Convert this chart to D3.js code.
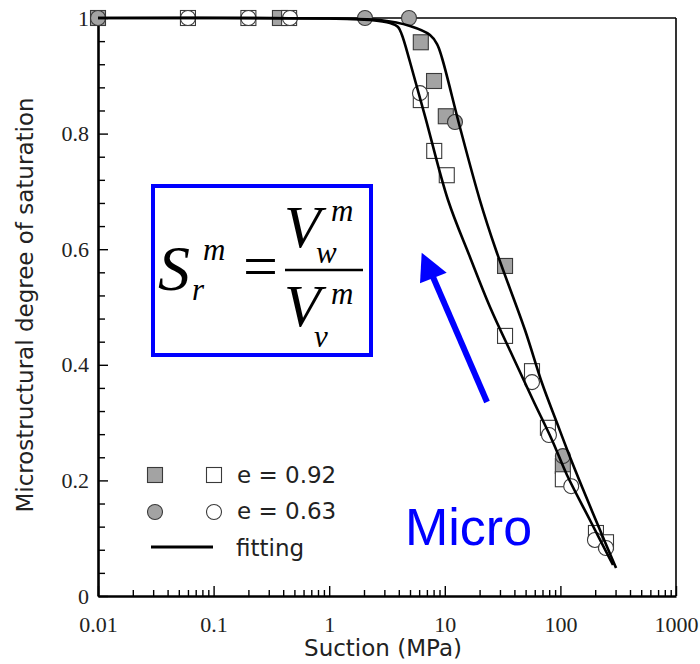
<!DOCTYPE html>
<html><head><meta charset="utf-8">
<script src="https://cdn.jsdelivr.net/npm/d3@7"></script>
<style>body{margin:0;background:#fff}</style>
</head><body>
<svg id="c" width="700" height="664" xmlns="http://www.w3.org/2000/svg"></svg>
<script>
// ---- tick values / labels ----
const xTicks = [0.01, 0.1, 1, 10, 100, 1000];
const xTickLabels = ["0.01", "0.1", "1", "10", "100", "1000"];
const yTicks = [0, 0.2, 0.4, 0.6, 0.8, 1];
const yTickLabels = ["0", "0.2", "0.4", "0.6", "0.8", "1"];

// ---- measured points (suction MPa, Sr^m) ----
const graySqS  = [0.01, 0.375, 6.2, 8.07, 10.2, 33.2, 105];
const graySqSr = [1, 1, 0.958, 0.891, 0.830, 0.571, 0.225];

const openSqS  = [0.06, 0.2, 0.45, 6.2, 8.1, 10.4, 33.2, 56.8, 78, 105, 203, 248];
const openSqSr = [1, 1, 1, 0.858, 0.770, 0.728, 0.450, 0.389, 0.291, 0.202, 0.109, 0.093];

const grayCircS  = [0.01, 2.04, 4.9, 12.25, 105];
const grayCircSr = [1, 1, 1, 0.820, 0.242];

const openCircS  = [0.06, 0.2, 0.458, 6.1, 56.8, 79.6, 124, 199, 248];
const openCircSr = [1, 1, 1, 0.870, 0.370, 0.2785, 0.190, 0.097, 0.083];

// ---- fitting curves ----
const fitAS  = [0.01, 1.016, 2.25, 3.36, 3.94, 4.26, 5.0, 6.74, 10.66, 16.5, 24.6, 38.9, 57.9, 84.6, 114, 180, 285];
const fitASr = [1, 0.9991, 0.9965, 0.9913, 0.9844, 0.9706, 0.9239, 0.8304, 0.6851, 0.5865, 0.5, 0.4135, 0.3391, 0.2699, 0.2093, 0.1315, 0.0536];

const fitBS  = [0.01, 1.016, 2.75, 5.0, 7.45, 8.57, 9.46, 13.5, 20.1, 27.7, 49.4, 69.3, 93.5, 121, 154, 220, 303];
const fitBSr = [1, 0.9991, 0.9965, 0.9862, 0.9706, 0.955, 0.9308, 0.8114, 0.6851, 0.5986, 0.4602, 0.3685, 0.2993, 0.2405, 0.1886, 0.1142, 0.0484];

const legendLabels = ["e = 0.92", "e = 0.63", "fitting"];

// ---- setup ----
const svg = d3.select("#c");
const x = d3.scaleLog().domain([0.01, 1000]).range([98, 676]);
const y = d3.scaleLinear().domain([0, 1]).range([596, 18]);

const grayFill = "#a3a3a3";
const mStroke = "#3a3a3a";

// minor ticks
const xMinor = [];
[0.01, 0.1, 1, 10, 100].forEach(d => { for (let k = 2; k <= 9; k++) xMinor.push(d * k); });
const yMinor = d3.range(0, 26).map(i => i * 0.04).filter(v => Math.abs(v * 5 - Math.round(v * 5)) > 1e-6);

// frame top/right
svg.append("line").attr("x1", 98).attr("x2", 676).attr("y1", 18).attr("y2", 18)
  .attr("stroke", "#000").attr("stroke-width", 1.6);
svg.append("line").attr("x1", 676).attr("x2", 676).attr("y1", 18).attr("y2", 596)
  .attr("stroke", "#000").attr("stroke-width", 1.6);

// bottom axis
const gxMinor = svg.append("g").attr("transform", "translate(0,596)")
  .call(d3.axisBottom(x).tickValues(xMinor).tickFormat("").tickSizeInner(-6).tickSizeOuter(0));
gxMinor.select(".domain").remove();
const gx = svg.append("g").attr("transform", "translate(0,596)")
  .call(d3.axisBottom(x).tickValues(xTicks).tickFormat((d, i) => xTickLabels[i])
    .tickSizeInner(-10).tickSizeOuter(0).tickPadding(20));
gx.select(".domain").attr("stroke-width", 2.6);
gx.selectAll("text").attr("font-family", "'Liberation Serif','Times New Roman',serif")
  .attr("font-size", 22).attr("fill", "#222");

// left axis
const gyMinor = svg.append("g").attr("transform", "translate(98,0)")
  .call(d3.axisLeft(y).tickValues(yMinor).tickFormat("").tickSizeInner(-7).tickSizeOuter(0));
gyMinor.select(".domain").remove();
const gy = svg.append("g").attr("transform", "translate(98,0)")
  .call(d3.axisLeft(y).tickValues(yTicks).tickFormat((d, i) => yTickLabels[i])
    .tickSizeInner(-10).tickSizeOuter(0).tickPadding(9));
gy.select(".domain").attr("stroke-width", 2.6);
gy.selectAll("text").attr("font-family", "'Liberation Serif','Times New Roman',serif")
  .attr("font-size", 22).attr("fill", "#222");
svg.selectAll(".tick line").attr("stroke-width", 1.4);

// axis titles
svg.append("text").attr("x", 383).attr("y", 656).attr("text-anchor", "middle")
  .attr("font-family", "'DejaVu Sans',Verdana,sans-serif").attr("font-size", 23).attr("fill", "#222")
  .text("Suction (MPa)");
svg.append("text").attr("transform", "translate(33,305) rotate(-90)").attr("text-anchor", "middle")
  .attr("font-family", "'DejaVu Sans',Verdana,sans-serif").attr("font-size", 23).attr("fill", "#222")
  .text("Microstructural degree of saturation");

// markers
const sq = 15, cr = 7.5;
function squares(S, Sr, fill) {
  svg.append("g").selectAll("rect").data(S.map((s, i) => [s, Sr[i]])).join("rect")
    .attr("x", d => x(d[0]) - sq / 2).attr("y", d => y(d[1]) - sq / 2)
    .attr("width", sq).attr("height", sq)
    .attr("fill", fill).attr("stroke", mStroke).attr("stroke-width", 1.1);
}
function circles(S, Sr, fill) {
  svg.append("g").selectAll("circle").data(S.map((s, i) => [s, Sr[i]])).join("circle")
    .attr("cx", d => x(d[0])).attr("cy", d => y(d[1])).attr("r", cr)
    .attr("fill", fill).attr("stroke", mStroke).attr("stroke-width", 1.1);
}
squares(graySqS, graySqSr, grayFill);
squares(openSqS, openSqSr, "#fff");
circles(grayCircS, grayCircSr, grayFill);
circles(openCircS, openCircSr, "#fff");

// fitting lines
const line = d3.line().x(d => x(d[0])).y(d => y(d[1])).curve(d3.curveCatmullRom.alpha(0.5));
[[fitAS, fitASr], [fitBS, fitBSr]].forEach(([S, Sr]) => {
  svg.append("path").datum(S.map((s, i) => [s, Sr[i]])).attr("d", line)
    .attr("fill", "none").attr("stroke", "#000").attr("stroke-width", 2.6);
});

// legend
const lg = svg.append("g").attr("font-family", "'DejaVu Sans',Verdana,sans-serif").attr("font-size", 23).attr("fill", "#222");
lg.append("rect").attr("x", 155 - sq / 2).attr("y", 475 - sq / 2).attr("width", sq).attr("height", sq)
  .attr("fill", grayFill).attr("stroke", mStroke).attr("stroke-width", 1.1);
lg.append("rect").attr("x", 214 - sq / 2).attr("y", 475 - sq / 2).attr("width", sq).attr("height", sq)
  .attr("fill", "#fff").attr("stroke", mStroke).attr("stroke-width", 1.1);
lg.append("circle").attr("cx", 155).attr("cy", 512).attr("r", cr)
  .attr("fill", grayFill).attr("stroke", mStroke).attr("stroke-width", 1.1);
lg.append("circle").attr("cx", 214).attr("cy", 512).attr("r", cr)
  .attr("fill", "#fff").attr("stroke", mStroke).attr("stroke-width", 1.1);
lg.append("line").attr("x1", 151).attr("x2", 213).attr("y1", 547).attr("y2", 547)
  .attr("stroke", "#000").attr("stroke-width", 3);
lg.append("text").attr("x", 237).attr("y", 483).text(legendLabels[0]);
lg.append("text").attr("x", 237).attr("y", 519).text(legendLabels[1]);
lg.append("text").attr("x", 236).attr("y", 556).text(legendLabels[2]);

// formula box
svg.append("rect").attr("x", 153).attr("y", 186).attr("width", 218).attr("height", 169)
  .attr("fill", "none").attr("stroke", "#0000ff").attr("stroke-width", 4);
const ff = "'Liberation Serif','Times New Roman',serif";
const fm = svg.append("g").attr("font-family", ff).attr("fill", "#000").attr("font-style", "italic");
fm.append("text").attr("x", 158).attr("y", 290).attr("font-size", 64).text("S");
fm.append("text").attr("x", 203).attr("y", 260).attr("font-size", 31).text("m");
fm.append("text").attr("x", 192).attr("y", 300).attr("font-size", 31).text("r");
fm.append("text").attr("x", 243).attr("y", 287).attr("font-size", 62).attr("font-style", "normal").text("=");
fm.append("line").attr("x1", 285).attr("x2", 363).attr("y1", 270).attr("y2", 270)
  .attr("stroke", "#000").attr("stroke-width", 2.4);
fm.append("text").attr("x", 284).attr("y", 247).attr("font-size", 60).text("V");
fm.append("text").attr("x", 331).attr("y", 221).attr("font-size", 31).text("m");
fm.append("text").attr("x", 316).attr("y", 263).attr("font-size", 31).text("w");
fm.append("text").attr("x", 284).attr("y", 326).attr("font-size", 60).text("V");
fm.append("text").attr("x", 331).attr("y", 304).attr("font-size", 31).text("m");
fm.append("text").attr("x", 314).attr("y", 347).attr("font-size", 31).text("v");

// arrow + Micro
svg.append("line").attr("x1", 487).attr("y1", 402).attr("x2", 433).attr("y2", 277)
  .attr("stroke", "#0000ff").attr("stroke-width", 6);
svg.append("path").attr("d", "M421.7,252.7 L420,283.3 L446.7,272.7 Z").attr("fill", "#0000ff");
svg.append("text").attr("x", 405).attr("y", 545).attr("font-family", "'Liberation Sans',Arial,sans-serif")
  .attr("font-size", 52).attr("fill", "#0000ff").text("Micro");
</script>
</body></html>
